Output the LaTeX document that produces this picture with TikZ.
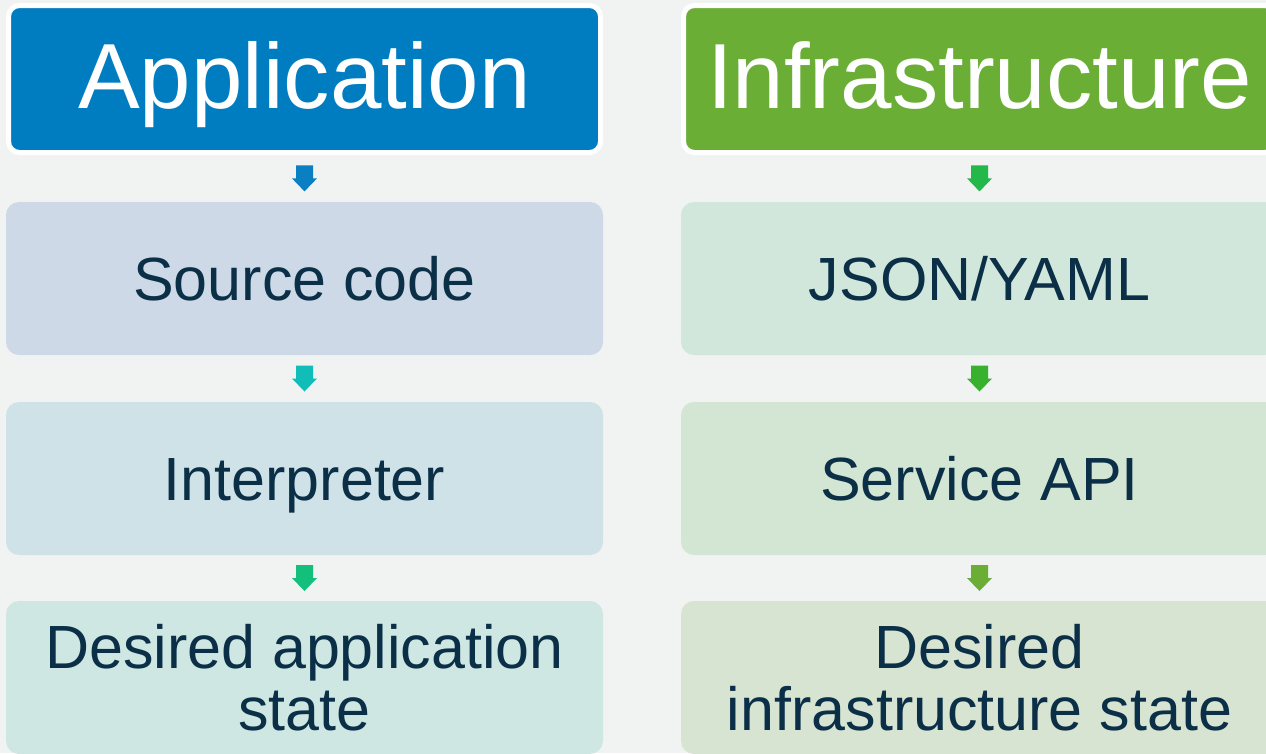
\documentclass[tikz,border=0pt]{standalone}
\usepackage{fontspec}
\setmainfont{Liberation Sans}
\usetikzlibrary{calc}
\definecolor{bg}{HTML}{F1F3F2}
\definecolor{blueH}{HTML}{007DC0}
\definecolor{greenH}{HTML}{6AAE36}
\definecolor{cA}{HTML}{CDD9E7}
\definecolor{cB}{HTML}{CFE2E8}
\definecolor{cC}{HTML}{CEE7E3}
\definecolor{cD}{HTML}{D1E7DC}
\definecolor{cE}{HTML}{D2E6D3}
\definecolor{cF}{HTML}{D7E4D2}
\definecolor{arA}{HTML}{0A7FC2}
\definecolor{arB}{HTML}{10BDB8}
\definecolor{arC}{HTML}{14BF7C}
\definecolor{arD}{HTML}{22B84A}
\definecolor{arE}{HTML}{38B12F}
\definecolor{arF}{HTML}{6AAE36}
\definecolor{txt}{HTML}{0B2F47}
\newcommand\blockarrowat[2]{%
  \fill[#1] ($(#2)+(-8.5,-13)$) -- ($(#2)+(8.5,-13)$) -- ($(#2)+(8.5,0)$) -- ($(#2)+(12.5,0)$)
    -- ($(#2)+(0,13)$) -- ($(#2)+(-12.5,0)$) -- ($(#2)+(-8.5,0)$) -- cycle;}
\begin{document}
\begin{tikzpicture}[x=1pt,y=-1pt,
  hdr/.style={rectangle, rounded corners=11pt, draw=white, line width=5pt,
    minimum width=592pt, minimum height=147pt, inner sep=0pt, text=white,
    font=\fontsize{92.5}{100}\selectfont, text height=67pt, text depth=9pt},
  box/.style={rectangle, rounded corners=13pt, minimum width=597pt, minimum height=153pt,
    inner sep=0pt, text=txt, font=\fontsize{61}{62}\selectfont, align=center,
    text height=44pt, text depth=0pt},
  twoline/.style={text height=106pt, text depth=0pt}]
\clip (0,0) rectangle (1266,753);
\fill[bg] (0,0) rectangle (1266,753);
% left column
\node[hdr, fill=blueH] (h1) at (304.5,79) {Application};
\node[box, fill=cA] (s1) at (304.5,278.5) {Source code};
\node[box, fill=cB] (i1) at (304.5,478.5) {Interpreter};
\node[box, twoline, fill=cC] (d1) at (304.5,677.5) {Desired application\\state};
% right column
\node[hdr, fill=greenH] (h2) at (979.5,79) {Infrastructure};
\node[box, fill=cD] (s2) at (979.5,278.5) {JSON/YAML};
\node[box, fill=cE] (i2) at (979.5,478.5) {Service API};
\node[box, twoline, fill=cF] (d2) at (979.5,677.5) {Desired\\infrastructure state};
% arrows
\coordinate (m1) at ($(h1.south)!0.5!(s1.north)$);
\coordinate (m2) at ($(s1.south)!0.5!(i1.north)$);
\coordinate (m3) at ($(i1.south)!0.5!(d1.north)$);
\coordinate (m4) at ($(h2.south)!0.5!(s2.north)$);
\coordinate (m5) at ($(s2.south)!0.5!(i2.north)$);
\coordinate (m6) at ($(i2.south)!0.5!(d2.north)$);
\blockarrowat{arA}{m1}
\blockarrowat{arB}{m2}
\blockarrowat{arC}{m3}
\blockarrowat{arD}{m4}
\blockarrowat{arE}{m5}
\blockarrowat{arF}{m6}
\end{tikzpicture}
\end{document}
